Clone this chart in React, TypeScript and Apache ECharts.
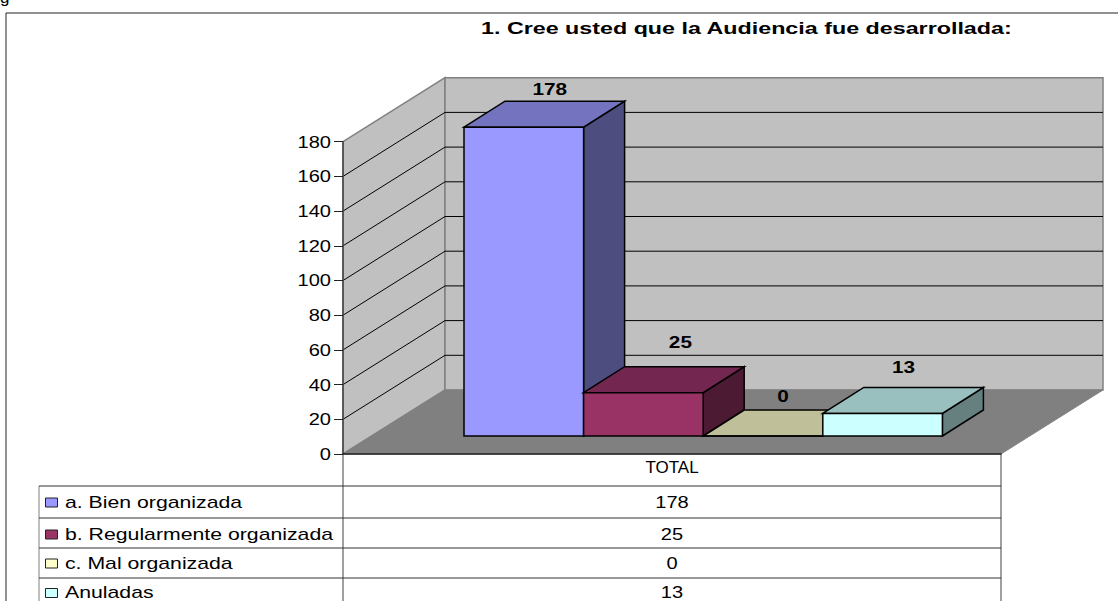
import React, { useEffect, useRef } from "react";
import * as echarts from "echarts";

const chartTitle = "1. Cree usted que la Audiencia fue desarrollada:";
const categories = ["TOTAL"];
const seriesNames = ["a. Bien organizada", "b. Regularmente organizada", "c. Mal organizada", "Anuladas"];
const seriesValues = [178, 25, 0, 13];
const yTicks = [0, 20, 40, 60, 80, 100, 120, 140, 160, 180];

const frontColors = ["#9999FF", "#993366", "#FFFFCC", "#CCFFFF"];
const topColors = ["#7373BF", "#732650", "#BFBF99", "#99BFBF"];
const sideColors = ["#4D4D80", "#4D1A33", "#808066", "#668080"];
const labelOffsets = [[26, -38], [37, -50], [20, -40], [21, -46]];

const FONT = "Liberation Sans, Arial, sans-serif";
const WALL = "#C0C0C0";
const GREY = "#808080";
const WALL_DX = 102;
const WALL_DY = -64;
const RIGHT_X = 1001;
const BAR_W = 119.6;
const BAR_SHIFT = 31.2;
const BAR_LIFT = 18;
const DEPTH_X = 41;
const DEPTH_Y = -26;
const LEGEND_SCALE = 1.25;
const NUMBER_SCALE = 1.18;
const BOLD_NUMBER_SCALE = 1.22;
const TITLE_SCALE = 1.37;

const tableRows = [486, 518, 548, 578];
const rowCentres = [502, 534, 563, 592.5];

function poly(points: number[][], fill: string, stroke: string, lineWidth: number) {
  return { type: "polygon", shape: { points }, style: { fill, stroke, lineWidth } };
}

function wallItem(_p: any, api: any) {
  const [, y0] = api.coord([0, 0]);
  const left = 343;
  const yTop = api.coord([0, 180])[1];
  const children: any[] = [
    poly([[left, y0], [left + WALL_DX, y0 + WALL_DY], [left + WALL_DX, yTop + WALL_DY], [left, yTop]], WALL, GREY, 1.5),
    poly([[left + WALL_DX, y0 + WALL_DY], [RIGHT_X + WALL_DX, y0 + WALL_DY], [RIGHT_X + WALL_DX, yTop + WALL_DY], [left + WALL_DX, yTop + WALL_DY]], WALL, GREY, 1.5),
  ];
  yTicks.slice(1, -1).forEach((t) => {
    const y = api.coord([0, t])[1];
    children.push({
      type: "polyline",
      shape: { points: [[left, y], [left + WALL_DX, y + WALL_DY], [RIGHT_X + WALL_DX, y + WALL_DY]] },
      style: { fill: "none", stroke: "#000", lineWidth: 1 },
    });
  });
  children.push(poly([[left, y0], [left + WALL_DX, y0 + WALL_DY], [RIGHT_X + WALL_DX, y0 + WALL_DY], [RIGHT_X, y0]], GREY, GREY, 1));
  yTicks.forEach((t) => {
    children.push({
      type: "text",
      x: 331,
      y: api.coord([0, t])[1],
      scaleX: NUMBER_SCALE,
      style: { text: String(t), fill: "#000", font: `17px ${FONT}`, align: "right", verticalAlign: "middle" },
    });
  });
  return { type: "group", children };
}

function barItem(index: number) {
  return (_p: any, api: any) => {
    const value = api.value(1);
    const cx = api.coord([api.value(0), 0])[0];
    const x = cx + BAR_SHIFT + (index - seriesNames.length / 2) * BAR_W;
    const y0 = api.coord([0, 0])[1] - BAR_LIFT;
    const y1 = api.coord([0, value])[1] - BAR_LIFT;
    const r = x + BAR_W;
    const style = { stroke: "#000", lineWidth: 1.5 };
    const [ox, oy] = labelOffsets[index];
    return {
      type: "group",
      children: [
        { type: "polygon", shape: { points: [[r, y0], [r + DEPTH_X, y0 + DEPTH_Y], [r + DEPTH_X, y1 + DEPTH_Y], [r, y1]] }, style: { ...style, fill: sideColors[index] } },
        { type: "polygon", shape: { points: [[x, y1], [x + DEPTH_X, y1 + DEPTH_Y], [r + DEPTH_X, y1 + DEPTH_Y], [r, y1]] }, style: { ...style, fill: topColors[index] } },
        { type: "rect", shape: { x, y: y1, width: BAR_W, height: y0 - y1 }, style: { ...style, fill: frontColors[index] } },
        {
          type: "text",
          x: x + BAR_W / 2 + ox,
          y: y1 + oy,
          scaleX: BOLD_NUMBER_SCALE,
          style: { text: String(value), fill: "#000", font: `bold 17px ${FONT}`, align: "center", verticalAlign: "middle" },
        },
      ],
    };
  };
}

function hLine(x1: number, x2: number, y: number, stroke = "#333") {
  return { type: "line", shape: { x1, y1: y, x2, y2: y }, style: { stroke, lineWidth: 1 }, z: 1 };
}
function vLine(x: number, y1: number, y2: number, stroke = "#333", lineWidth = 1) {
  return { type: "line", shape: { x1: x, y1, x2: x, y2 }, style: { stroke, lineWidth }, z: 1 };
}

export default function App() {
  const ref = useRef<HTMLDivElement>(null);
  useEffect(() => {
    if (!ref.current) return;
    const chart = echarts.init(ref.current, undefined, { renderer: "svg" });
    const tableGraphics: any[] = [
      { type: "text", x: 0, y: -11, style: { text: "g", font: `17px ${FONT}`, fill: "#000" }, z: 1 },
      {
        type: "text",
        x: 481,
        y: 28,
        scaleX: TITLE_SCALE,
        style: { text: chartTitle, font: `bold 17px ${FONT}`, fill: "#000", verticalAlign: "middle" },
        z: 1,
      },
      hLine(6, 1118, 13, "#222"),
      vLine(6, 13, 601, "#222"),
      vLine(39, 486, 601, GREY),
      vLine(343, 454, 601, GREY, 1.5),
      vLine(RIGHT_X, 454, 601, GREY, 1.5),
    ];
    tableRows.forEach((y) => tableGraphics.push(hLine(39, RIGHT_X, y, "#333")));
    seriesNames.forEach((name, i) => {
      const cy = rowCentres[i];
      tableGraphics.push(
        { type: "rect", shape: { x: 45.5, y: cy - 4, width: 12, height: 9 }, style: { fill: frontColors[i], stroke: "#222", lineWidth: 1 }, z: 1 },
        { type: "text", x: 65, y: cy, scaleX: LEGEND_SCALE, style: { text: name, font: `17px ${FONT}`, fill: "#000", verticalAlign: "middle" }, z: 1 },
        { type: "text", x: 672, y: cy, scaleX: NUMBER_SCALE, style: { text: String(seriesValues[i]), font: `17px ${FONT}`, fill: "#000", align: "center", verticalAlign: "middle" }, z: 1 }
      );
    });
    chart.setOption({
      animation: false,
      backgroundColor: "#fff",
      grid: { left: 343, top: 141.7, width: RIGHT_X - 343, height: 312.3 },
      xAxis: {
        type: "category",
        data: categories,
        axisLine: { show: true, lineStyle: { color: "#222", width: 1.5 } },
        axisTick: { show: false },
        axisLabel: { color: "#000", fontFamily: FONT, fontSize: 17, margin: 5 },
        splitLine: { show: false },
        z: 5,
      },
      yAxis: {
        type: "value",
        min: 0,
        max: 180,
        interval: 20,
        axisLine: { show: true, lineStyle: { color: "#444", width: 1.5 } },
        axisTick: { show: true, length: 9, lineStyle: { color: "#222", width: 1 } },
        axisLabel: { show: false },
        splitLine: { show: false },
        z: 5,
      },
      graphic: tableGraphics,
      series: [
        { type: "custom", name: "walls", data: [[0, 0]], encode: { x: 0, y: 1 }, renderItem: wallItem, clip: false, z: 1, silent: true },
        ...seriesNames.map((name, i) => ({
          type: "custom",
          name,
          data: [[0, seriesValues[i]]],
          encode: { x: 0, y: 1 },
          renderItem: barItem(i),
          clip: false,
          z: 2 + i,
        })),
      ],
    });
    return () => chart.dispose();
  }, []);
  return <div ref={ref} style={{ position: "absolute", left: 0, top: 0, width: 1118, height: 601, overflow: "hidden" }} />;
}
